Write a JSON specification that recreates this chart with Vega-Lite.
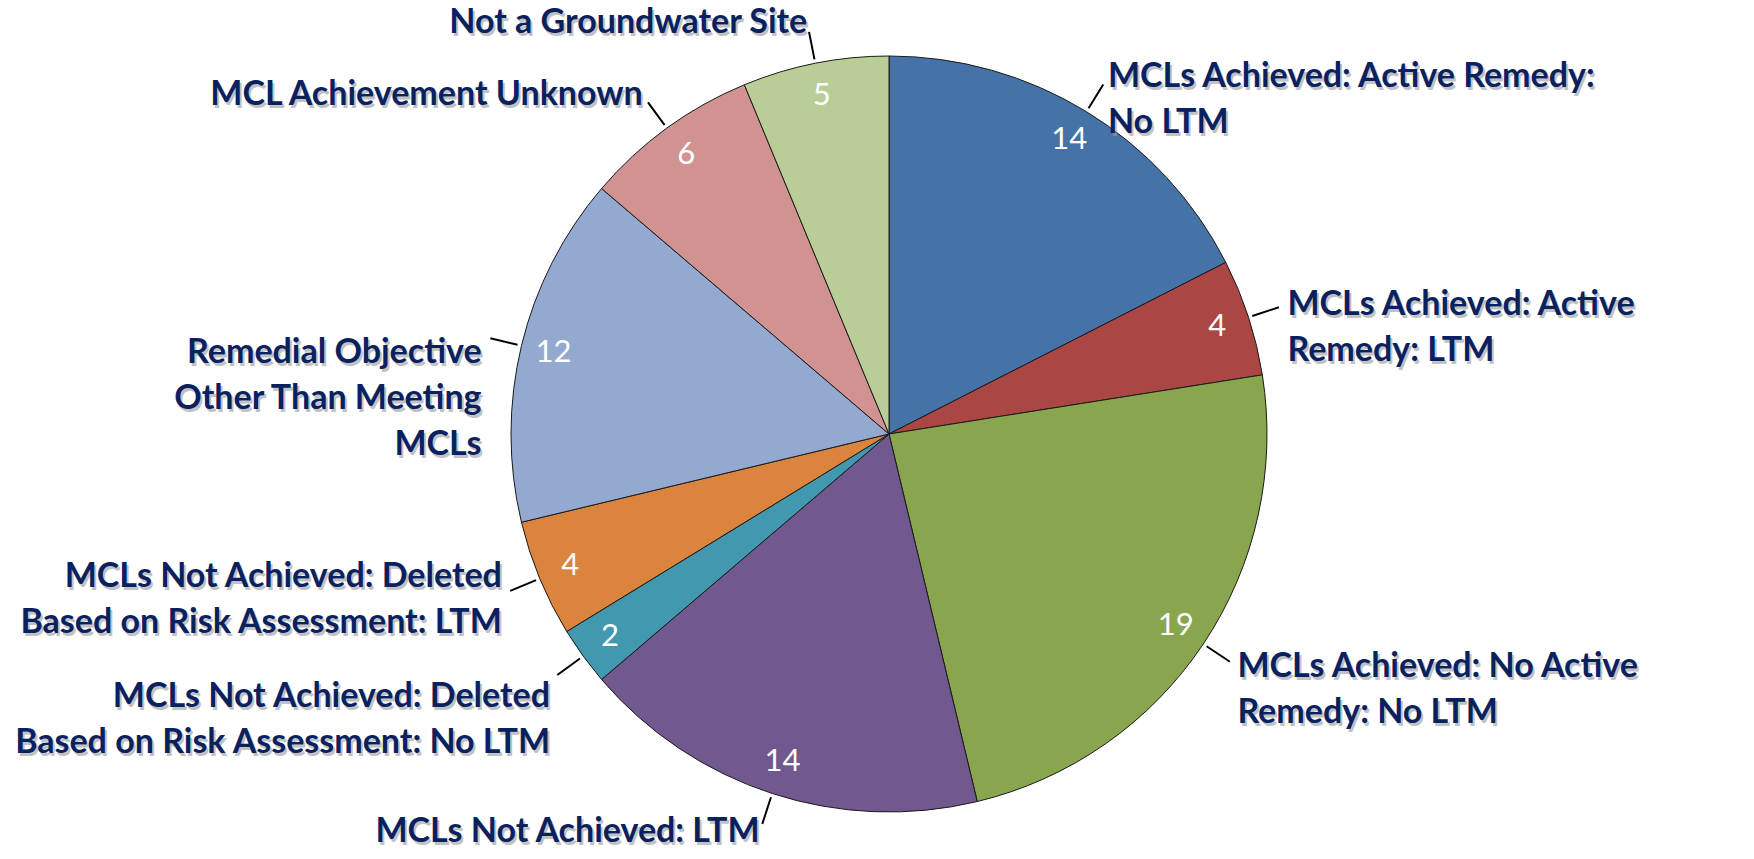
{
  "$schema": "https://vega.github.io/schema/vega-lite/v6.json",
  "width": 1754,
  "height": 859,
  "autosize": {"type": "fit", "contains": "padding"},
  "padding": {"left": 24, "top": 9, "right": 0, "bottom": 0},
  "background": "white",
  "view": {"stroke": null},
  "data": {
    "values": [
      {"order": 1, "category": "MCLs Achieved: Active Remedy: No LTM", "label": "MCLs Achieved: Active Remedy:\nNo LTM", "count": 14},
      {"order": 2, "category": "MCLs Achieved: Active Remedy: LTM", "label": "MCLs Achieved: Active\nRemedy: LTM", "count": 4},
      {"order": 3, "category": "MCLs Achieved: No Active Remedy: No LTM", "label": "MCLs Achieved: No Active\nRemedy: No LTM", "count": 19},
      {"order": 4, "category": "MCLs Not Achieved: LTM", "label": "MCLs Not Achieved: LTM", "count": 14},
      {"order": 5, "category": "MCLs Not Achieved: Deleted Based on Risk Assessment: No LTM", "label": "MCLs Not Achieved: Deleted\nBased on Risk Assessment: No LTM", "count": 2},
      {"order": 6, "category": "MCLs Not Achieved: Deleted Based on Risk Assessment: LTM", "label": "MCLs Not Achieved: Deleted\nBased on Risk Assessment: LTM", "count": 4},
      {"order": 7, "category": "Remedial Objective Other Than Meeting MCLs", "label": "Remedial Objective\nOther Than Meeting\nMCLs", "count": 12},
      {"order": 8, "category": "MCL Achievement Unknown", "label": "MCL Achievement Unknown", "count": 6},
      {"order": 9, "category": "Not a Groundwater Site", "label": "Not a Groundwater Site", "count": 5}
    ]
  },
  "encoding": {
    "theta": {"field": "count", "type": "quantitative", "stack": true},
    "order": {"field": "order", "type": "quantitative"}
  },
  "layer": [
    {
      "mark": {"type": "arc", "outerRadius": 378, "stroke": "#1a1a1a", "strokeWidth": 1},
      "encoding": {
        "color": {
          "field": "category",
          "type": "nominal",
          "legend": null,
          "sort": {"field": "order"},
          "scale": {
            "domain": [
              "MCLs Achieved: Active Remedy: No LTM",
              "MCLs Achieved: Active Remedy: LTM",
              "MCLs Achieved: No Active Remedy: No LTM",
              "MCLs Not Achieved: LTM",
              "MCLs Not Achieved: Deleted Based on Risk Assessment: No LTM",
              "MCLs Not Achieved: Deleted Based on Risk Assessment: LTM",
              "Remedial Objective Other Than Meeting MCLs",
              "MCL Achievement Unknown",
              "Not a Groundwater Site"
            ],
            "range": ["#4572A7", "#AA4643", "#89A54E", "#71588F", "#4198AF", "#DB843D", "#93A9CF", "#D19392", "#B9CD96"]
          }
        }
      }
    },
    {
      "mark": {"type": "arc", "innerRadius": 382, "outerRadius": 410, "padAngle": 3, "fill": "transparent", "stroke": "#000000", "strokeWidth": 2},
      "encoding": {}
    },
    {
      "mark": {"type": "text", "radius": 345, "font": "Lato", "fontSize": 31, "color": "white", "align": "center", "baseline": "middle"},
      "encoding": {"text": {"field": "count", "type": "quantitative"}}
    },
    {
      "mark": {"type": "text", "radius": 419, "dx": 2, "dy": 3, "font": "Lato", "fontWeight": "bold", "fontSize": 34, "lineBreak": "\n", "lineHeight": 46, "color": "#9a9a9a", "opacity": 0.6,
        "baseline": {"expr": "(datum.order == 5 || datum.order == 7) ? 'top' : (datum.order == 6 ? 'bottom' : 'middle')"},
        "align": {"expr": "datum.order <= 3 ? 'left' : 'right'"}},
      "encoding": {"text": {"field": "label", "type": "nominal"}}
    },
    {
      "mark": {"type": "text", "radius": 419, "font": "Lato", "fontWeight": "bold", "fontSize": 34, "lineBreak": "\n", "lineHeight": 46, "color": "#0a2160",
        "baseline": {"expr": "(datum.order == 5 || datum.order == 7) ? 'top' : (datum.order == 6 ? 'bottom' : 'middle')"},
        "align": {"expr": "datum.order <= 3 ? 'left' : 'right'"}},
      "encoding": {"text": {"field": "label", "type": "nominal"}}
    }
  ]
}
